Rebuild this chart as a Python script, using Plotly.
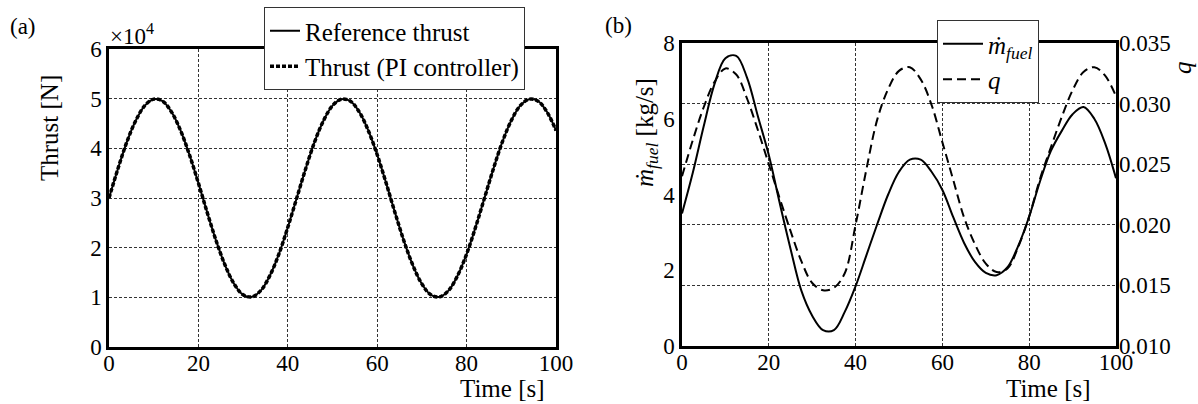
import plotly.graph_objects as go

# ---------------- data ----------------
t_thrust = [0, 2, 4, 6, 8, 10, 12, 14, 16, 18, 20, 22, 24, 26, 28, 30, 32, 34, 36, 38, 40,
            42, 44, 46, 48, 50, 52, 54, 56, 58, 60, 62, 64, 66, 68, 70, 72, 74, 76, 78, 80,
            82, 84, 86, 88, 90, 92, 94, 96, 98, 100]
thrust_ref = [30000, 35900, 41300, 45600, 48600, 49900, 49500, 47300, 43600, 38700, 33000,
              27000, 21300, 16400, 12700, 10500, 10100, 11400, 14400, 18700, 24100,
              30000, 35900, 41300, 45600, 48600, 49900, 49500, 47300, 43600, 38700, 33000,
              27000, 21300, 16400, 12700, 10500, 10100, 11400, 14400, 18700, 24100,
              30000, 35900, 41300, 45600, 48600, 49900, 49500, 47300, 43600]
thrust_pi = [30000, 35900, 41300, 45600, 48600, 49900, 49500, 47300, 43600, 38700, 33000,
             27000, 21300, 16400, 12700, 10500, 10100, 11400, 14400, 18700, 24100,
             30000, 35900, 41300, 45600, 48600, 49900, 49500, 47300, 43600, 38700, 33000,
             27000, 21300, 16400, 12700, 10500, 10100, 11400, 14400, 18700, 24100,
             30000, 35900, 41300, 45600, 48600, 49900, 49500, 47300, 43600]

t_b = [0, 2.5, 5, 7.5, 10, 12.5, 15, 17.5, 20, 22.5, 25, 27.5, 30, 32.5, 35, 37.5, 40,
       42.5, 45, 47.5, 50, 52.5, 55, 57.5, 60, 62.5, 65, 67.5, 70, 72.5, 75, 77.5, 80,
       82.5, 85, 87.5, 90, 92.5, 95, 97.5, 100]
m_fuel = [3.50, 4.58, 5.80, 6.92, 7.60, 7.66, 7.08, 6.06, 5.04, 3.78, 2.57, 1.46, 0.80,
          0.42, 0.42, 0.90, 1.58, 2.40, 3.22, 4.00, 4.60, 4.92, 4.92, 4.60, 4.12, 3.40,
          2.72, 2.22, 1.93, 1.87, 2.08, 2.65, 3.42, 4.35, 5.15, 5.68, 6.12, 6.31, 6.00,
          5.35, 4.43]
q_vals = [0.0240, 0.0270, 0.0297, 0.0318, 0.0329, 0.0324, 0.0304, 0.0278, 0.0250, 0.0222,
          0.0195, 0.0170, 0.0152, 0.0146, 0.0148, 0.0160, 0.0200, 0.0246, 0.0287, 0.0312,
          0.0327, 0.0330, 0.0320, 0.0299, 0.0268, 0.0237, 0.0206, 0.0184, 0.0168, 0.0161,
          0.0164, 0.0182, 0.0207, 0.0238, 0.0264, 0.0289, 0.0311, 0.0326, 0.0330, 0.0323,
          0.0306]

x_ticks = [0, 20, 40, 60, 80, 100]
thrust_ticks = [0, 10000, 20000, 30000, 40000, 50000, 60000]
thrust_ticktext = ["0", "1", "2", "3", "4", "5", "6"]
m_ticks = [0, 2, 4, 6, 8]
q_ticks = [0.010, 0.015, 0.020, 0.025, 0.030, 0.035]
q_ticktext = ["0.010", "0.015", "0.020", "0.025", "0.030", "0.035"]

# ---------------- figure ----------------
W, H = 1198, 404
FONT = "Liberation Serif"
FS = 23        # tick labels
FS_T = 25      # axis titles / legend

def px_x(x):
    return x / W

def px_y(y):
    return 1 - y / H

fig = go.Figure()

fig.add_trace(go.Scatter(x=t_thrust, y=thrust_ref, mode="lines", name="Reference thrust",
                         line=dict(color="black", width=2, shape="spline"),
                         xaxis="x", yaxis="y", legend="legend"))
fig.add_trace(go.Scatter(x=t_thrust, y=thrust_pi, mode="lines", name="Thrust (PI controller)",
                         line=dict(color="black", width=3.5, dash="4px,2px", shape="spline"),
                         xaxis="x", yaxis="y", legend="legend"))

fig.add_trace(go.Scatter(x=t_b, y=m_fuel, mode="lines",
                         name="<i>ṁ</i><sub><i>fuel</i></sub>",
                         line=dict(color="black", width=2, shape="spline"),
                         xaxis="x2", yaxis="y2", legend="legend2"))
fig.add_trace(go.Scatter(x=t_b, y=q_vals, mode="lines", name="<i>q</i>",
                         line=dict(color="black", width=2, dash="9px,5px", shape="spline"),
                         xaxis="x2", yaxis="y3", legend="legend2"))

grid_common = dict(showgrid=True, gridcolor="#333333", gridwidth=1, griddash="3px,2px",
                   zeroline=False, showline=True, linecolor="black", linewidth=2.5,
                   mirror=True, ticks="", automargin=False,
                   tickfont=dict(family=FONT, size=FS, color="black"))

ax_l = [px_x(109), px_x(556)]
ay_l = [px_y(347), px_y(49)]
ax_r = [px_x(682), px_x(1116)]
ay_r = [px_y(346), px_y(43)]

fig.update_layout(
    width=W, height=H,
    margin=dict(l=0, r=0, t=0, b=0, pad=0),
    paper_bgcolor="white", plot_bgcolor="white",
    font=dict(family=FONT, size=FS, color="black"),
    showlegend=True,
    xaxis=dict(domain=ax_l, range=[0, 100], tickvals=x_ticks, anchor="y",
               ticklabelstandoff=-6, **grid_common),
    yaxis=dict(domain=ay_l, range=[0, 60000], tickvals=thrust_ticks, ticktext=thrust_ticktext,
               anchor="x", **grid_common),
    xaxis2=dict(domain=ax_r, range=[0, 100], tickvals=x_ticks, anchor="y2",
                ticklabelstandoff=-6, **grid_common),
    yaxis2=dict(domain=ay_r, range=[0, 8], tickvals=m_ticks, anchor="x2",
                **{**grid_common, "showgrid": False}),
    yaxis3=dict(domain=ay_r, range=[0.010, 0.035], tickvals=q_ticks, ticktext=q_ticktext,
                overlaying="y2", side="right", anchor="x2", ticklabelstandoff=2,
                **{**grid_common, "showline": False, "mirror": False}),
    legend=dict(x=px_x(264), y=px_y(7), xanchor="left", yanchor="top",
                bgcolor="white", bordercolor="#333333", borderwidth=1,
                font=dict(family=FONT, size=FS_T, color="black"), itemwidth=30,
                tracegroupgap=0),
    legend2=dict(x=px_x(937), y=px_y(20), xanchor="left", yanchor="top",
                 bgcolor="white", bordercolor="#333333", borderwidth=1,
                 font=dict(family=FONT, size=FS_T, color="black"), itemwidth=40,
                 tracegroupgap=0),
)

annots = [
    dict(text="(a)", x=px_x(8), y=px_y(26), xanchor="left", yanchor="middle", size=FS),
    dict(text="(b)", x=px_x(603), y=px_y(25), xanchor="left", yanchor="middle", size=FS),
    dict(text="×10<sup>4</sup>", x=px_x(108), y=px_y(35), xanchor="left", yanchor="middle",
         size=FS),
    dict(text="Thrust [N]", x=px_x(49), y=px_y(128), xanchor="center", yanchor="middle",
         textangle=-90, size=FS_T),
    dict(text="Time [s]", x=px_x(502), y=px_y(388), xanchor="center", yanchor="middle",
         size=FS_T),
    dict(text="Time [s]", x=px_x(1048), y=px_y(388), xanchor="center", yanchor="middle",
         size=FS_T),
    dict(text="<i>ṁ</i><sub><i>fuel</i></sub> [kg/s]", x=px_x(646), y=px_y(133),
         xanchor="center", yanchor="middle", textangle=-90, size=FS_T),
    dict(text="<i>q</i>", x=px_x(1182), y=px_y(68), xanchor="center", yanchor="middle",
         textangle=-90, size=FS_T),
]
for a in annots:
    s = a.pop("size")
    a.update(xref="paper", yref="paper", showarrow=False,
             font=dict(family=FONT, size=s, color="black"))
fig.update_layout(annotations=annots)

fig.write_html("out.html", config={"displayModeBar": False},
               post_script="document.body.style.margin='0';document.body.style.overflow='hidden';")
